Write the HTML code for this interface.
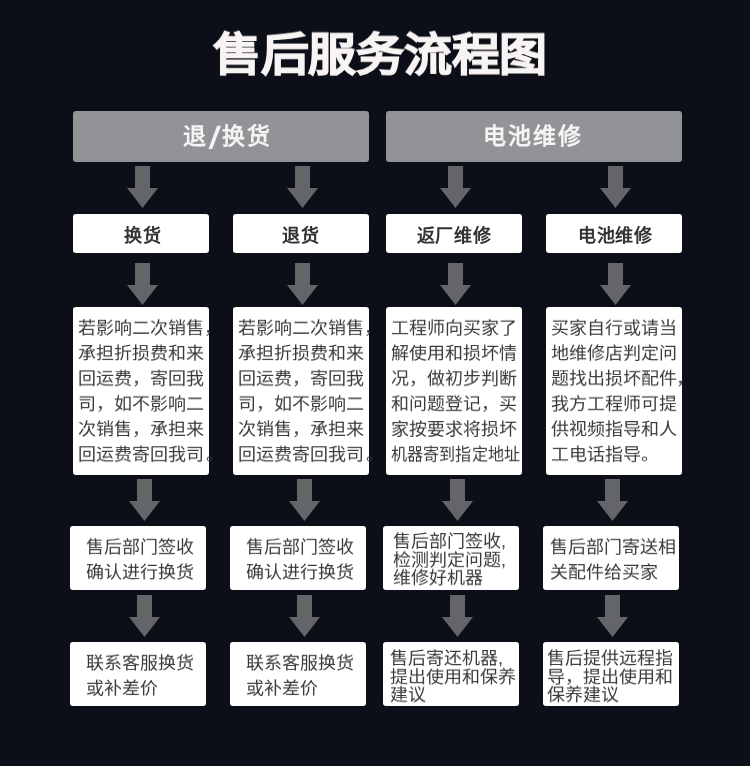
<!DOCTYPE html>
<html lang="zh-CN"><head><meta charset="utf-8">
<style>
*{margin:0;padding:0;box-sizing:border-box}
html,body{width:750px;height:766px;overflow:hidden;background:#0c0f17;font-family:"Liberation Sans",sans-serif}
.title{position:absolute;left:5px;top:24.6px;width:750px;text-align:center;color:#f8f4f4;font-size:48px;font-weight:bold;line-height:64px;letter-spacing:-0.3px;-webkit-text-stroke:1.2px #f8f4f4;will-change:transform;transform:scaleY(0.94);transform-origin:0 0}
.hdr{position:absolute;top:111px;height:51px;background:#929397;border-radius:3px;color:#f7f3f3;font-weight:bold;font-size:23px;letter-spacing:1px;will-change:transform;text-align:center;line-height:51px}
.ht{position:absolute;top:111px;line-height:51px;color:#f7f3f3;font-weight:bold;font-size:23px;letter-spacing:2px;will-change:transform;white-space:nowrap}
.lab{position:absolute;top:214px;height:39px;padding-top:5px;will-change:transform;letter-spacing:0.6px;background:#fff;border-radius:3px;color:#333;font-weight:bold;font-size:18px;text-align:center;line-height:34px}
.box{position:absolute;background:#fff;border-radius:3px}
.t{position:absolute;color:#3a3a3a;font-size:18px;line-height:27px;white-space:nowrap;will-change:transform;transform:scaleY(0.937);transform-origin:0 0}
.tt{line-height:19.5px}
.arr{position:absolute;width:31px;height:42px}
</style></head><body>
<div class="title">售后服务流程图</div>
<div class="hdr" style="left:73px;width:296px"></div><div class="ht" style="left:183px">退</div><svg class="abs" width="14" height="24" style="position:absolute;left:207px;top:125px"><polygon points="1.5,23.9 5.1,23.9 14,0.8 10.1,0.8" fill="#f7f3f3"/></svg><div class="ht" style="left:222px">换货</div>
<div class="hdr" style="left:386px;width:296px"></div><div class="ht" style="left:482.5px">电池维修</div>
<div class="lab" style="left:73px;width:136px;padding-left:4px">换货</div>
<div class="lab" style="left:233px;width:136px">退货</div>
<div class="lab" style="left:386px;width:136px">返厂维修</div>
<div class="lab" style="left:546px;width:136px;padding-left:3px">电池维修</div>

<!-- arrows -->
<svg width="750" height="766" style="position:absolute;left:0;top:0">
<defs><path id="a" d="M8 0H23V22H31L15.5 42L0 22H8Z" fill="#646569"/></defs>
<use href="#a" x="127" y="166"/><use href="#a" x="287" y="166"/><use href="#a" x="440" y="166"/><use href="#a" x="600" y="166"/>
<use href="#a" x="127" y="263"/><use href="#a" x="287" y="263"/><use href="#a" x="440" y="263"/><use href="#a" x="600" y="263"/>
<use href="#a" x="129" y="479"/><use href="#a" x="289" y="479"/><use href="#a" x="442" y="479"/><use href="#a" x="597" y="479"/>
<use href="#a" x="129" y="595"/><use href="#a" x="289" y="595"/><use href="#a" x="442" y="595"/><use href="#a" x="597" y="595"/>
</svg>

<div class="box" style="left:73px;top:307px;width:136px;height:168px"></div>
<div class="box" style="left:233px;top:307px;width:136px;height:168px"></div>
<div class="box" style="left:386px;top:307px;width:136px;height:168px"></div>
<div class="box" style="left:546px;top:307px;width:136px;height:168px"></div>

<div class="box" style="left:70px;top:526px;width:136px;height:64px"></div>
<div class="box" style="left:230px;top:526px;width:136px;height:64px"></div>
<div class="box" style="left:383px;top:526px;width:136px;height:64px"></div>
<div class="box" style="left:543px;top:526px;width:136px;height:64px"></div>

<div class="box" style="left:70px;top:642px;width:136px;height:64px"></div>
<div class="box" style="left:230px;top:642px;width:136px;height:64px"></div>
<div class="box" style="left:383px;top:642px;width:136px;height:64px"></div>
<div class="box" style="left:543px;top:642px;width:136px;height:64px"></div>

<div class="t" style="left:78px;top:315.5px">若影响二次销售，<br>承担折损费和来<br>回运费，寄回我<br>司，如不影响二<br>次销售，承担来<br>回运费寄回我司<span style="position:relative;left:1.5px">。</span></div>
<div class="t" style="left:238px;top:315.5px">若影响二次销售，<br>承担折损费和来<br>回运费，寄回我<br>司，如不影响二<br>次销售，承担来<br>回运费寄回我司<span style="position:relative;left:1.5px">。</span></div>
<div class="t" style="left:391px;top:315.5px">工程师向买家了<br>解使用和损坏情<br>况，做初步判断<br>和问题登记，买<br>家按要求将损坏<br><span style="display:inline-block;transform:scaleX(0.895);transform-origin:0 0">机器寄到指定地址</span></div>
<div class="t" style="left:551px;top:315.5px">买家自行或请当<br>地维修店判定问<br>题找出损坏配件<span style="position:relative;left:-1px">，</span><br>我方工程师可提<br>供视频指导和人<br>工电话指导。</div>

<div class="t" style="left:86px;top:535px">售后部门签收<br>确认进行换货</div>
<div class="t" style="left:246px;top:535px">售后部门签收<br>确认进行换货</div>
<div class="t tt" style="left:393px;top:533.3px">售后部门签收,<br>检测判定问题,<br>维修好机器</div>
<div class="t" style="left:549.5px;top:535px">售后部门寄送相<br>关配件给买家</div>

<div class="t" style="left:86px;top:651px">联系客服换货<br>或补差价</div>
<div class="t" style="left:246px;top:651px">联系客服换货<br>或补差价</div>
<div class="t tt" style="left:390.2px;top:649.5px">售后寄还机器,<br>提出使用和保养<br>建议</div>
<div class="t tt" style="left:547px;top:649.5px">售后提供远程指<br>导，提出使用和<br>保养建议</div>
</body></html>
